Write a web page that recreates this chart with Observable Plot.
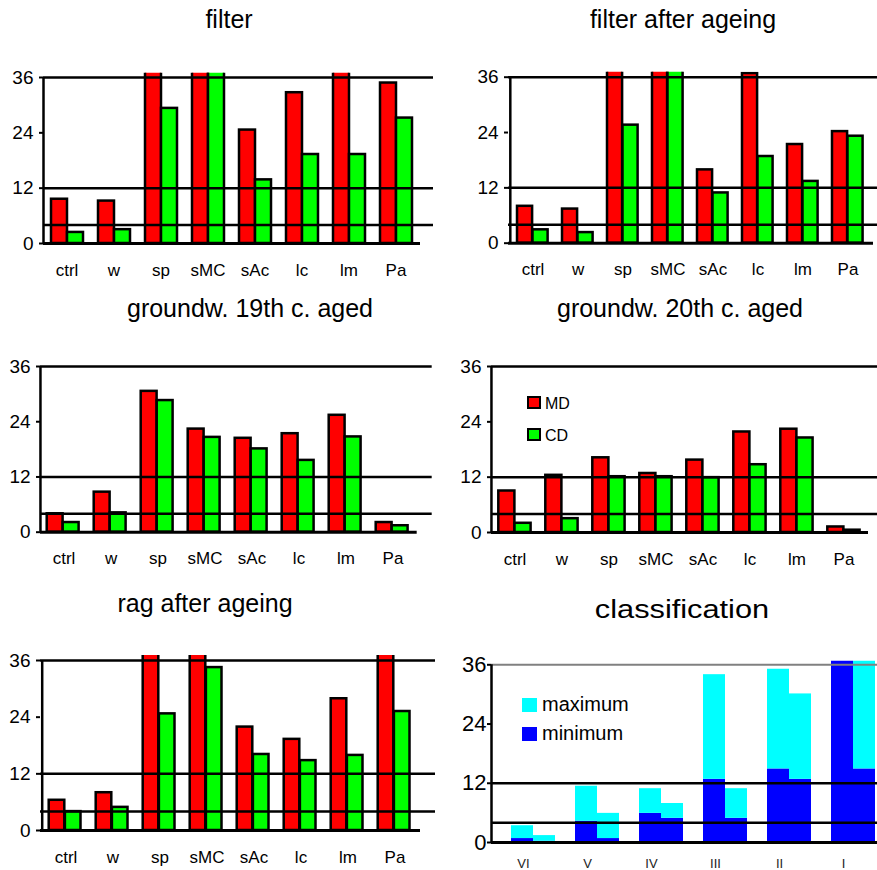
<!DOCTYPE html>
<html><head><meta charset="utf-8">
<script src="https://cdn.jsdelivr.net/npm/d3@7"></script>
<script src="https://cdn.jsdelivr.net/npm/@observablehq/plot@0.6"></script>
<style>
body{margin:0;background:#fff;}
#chart{position:relative;width:877px;height:870px;overflow:hidden;font-family:"Liberation Sans",Arial,sans-serif;color:#000;background:#fff;}
#chart svg{position:absolute;}
.title{position:absolute;font-size:25px;line-height:25px;white-space:nowrap;transform:translateX(-50%);}
.leg{position:absolute;white-space:nowrap;}
.sw{position:absolute;box-sizing:border-box;}
.barpanel g[aria-label^="x-axis"] text{font-size:17px;}
.clspanel g[aria-label^="x-axis"] text{font-size:13px;fill:#222;}
#chart g[aria-label^="y-axis"] line, #chart g[aria-label^="y-axis"] path{stroke-width:2px;}
</style></head>
<body>
<div id="chart"></div>
<script>
// ---------- data ----------
const categories = ["ctrl", "w", "sp", "sMC", "sAc", "lc", "lm", "Pa"];
const yTicks = [0, 12, 24, 36];
const refLines = [4, 12, 36];

// values above 36 are cut off at the top of the frame in the reference
const filterMD = [9.6, 9.2, 40, 40, 24.6, 32.7, 40, 34.8];
const filterCD = [2.4, 3.0, 29.3, 40, 13.8, 19.3, 19.3, 27.2];

const filterAgeMD = [8.0, 7.4, 40, 40, 15.9, 36.8, 21.4, 24.2];
const filterAgeCD = [2.9, 2.3, 25.6, 40, 10.9, 18.8, 13.4, 23.2];

const gw19MD = [4.0, 8.7, 30.6, 22.4, 20.4, 21.4, 25.4, 2.1];
const gw19CD = [2.1, 4.2, 28.6, 20.6, 18.1, 15.6, 20.7, 1.4];

const gw20MD = [9.0, 12.4, 16.2, 12.8, 15.7, 21.8, 22.4, 1.2];
const gw20CD = [2.0, 3.0, 12.1, 12.1, 11.9, 14.7, 20.5, 0.5];

const ragMD = [6.4, 8.0, 40, 40, 21.9, 19.3, 27.9, 40];
const ragCD = [4.0, 4.9, 24.7, 34.5, 16.1, 14.8, 15.9, 25.2];

const classes = ["VI", "V", "IV", "III", "II", "I"];
const minA = [0.8, 4.3, 5.9, 12.8, 14.9, 40];
const maxA = [3.4, 11.4, 10.9, 34.0, 35.1, 40];
const minB = [0.25, 0.8, 4.9, 4.9, 12.8, 14.9];
const maxB = [1.4, 5.9, 7.9, 10.9, 30.1, 40];

const titles = ["filter", "filter after ageing", "groundw. 19th c. aged", "groundw. 20th c. aged", "rag after ageing", "classification"];
const seriesNames = ["MD", "CD"];
const classLegend = ["maximum", "minimum"];

const mdColor = "#ff0000", cdColor = "#00ff00", maxColor = "#00ffff", minColor = "#0000ff";

const chart = document.getElementById("chart");
const font = '"Liberation Sans", Arial, sans-serif';

function place(el, left, top) {
  el.style.left = left + "px";
  el.style.top = top + "px";
  chart.appendChild(el);
}

function barPanel(cfg) {
  const {md, cd, svgLeft, svgTop, svgWidth, axisX, frameRight, xEnd, y36, y0, clipTop, inset, bw, baseEnd} = cfg;
  const pxPerUnit = (y0 - y36) / 36;
  const yTop = 36 + (y36 - clipTop) / pxPerUnit;
  const step = (xEnd - axisX) / categories.length;
  const mdData = categories.map((c, i) => ({cat: c, v: md[i]}));
  const cdData = categories.map((c, i) => ({cat: c, v: cd[i]}));
  const marginBottom = 40;
  const svg = Plot.plot({
    width: svgWidth,
    height: y0 - svgTop + marginBottom,
    marginLeft: axisX - svgLeft,
    marginRight: svgLeft + svgWidth - frameRight,
    marginTop: clipTop - svgTop,
    marginBottom,
    style: {fontFamily: font, fontSize: "19px", background: "transparent", color: "#000", overflow: "visible"},
    x: {type: "band", domain: categories, range: [axisX - svgLeft, xEnd - svgLeft], padding: 0, tickSize: 0, tickPadding: 20, label: null},
    y: {domain: [0, yTop], ticks: yTicks, tickSize: 4, tickPadding: 6, label: null},
    marks: [
      Plot.barY(mdData, {x: "cat", y: "v", fill: mdColor, stroke: "#000", strokeWidth: 2.5, insetLeft: inset, insetRight: step - inset - bw, clip: true}),
      Plot.barY(cdData, {x: "cat", y: "v", fill: cdColor, stroke: "#000", strokeWidth: 2.5, insetLeft: inset + bw, insetRight: step - inset - 2 * bw, clip: true}),
      Plot.ruleY(refLines, {stroke: "#000", strokeWidth: 2.5}),
      Plot.ruleY([0], {stroke: "#000", strokeWidth: 3, insetRight: frameRight - baseEnd}),
      Plot.ruleX([categories[0]], {x: d => d, dx: -step / 2, y1: 0, y2: 36, stroke: "#000", strokeWidth: 2.5})
    ]
  });
  svg.classList.add("barpanel");
  place(svg, svgLeft, svgTop);
}

function classPanel(cfg) {
  const {svgLeft, svgTop, svgWidth, axisX, frameRight, xEnd, y36, y0, clipTop, inset, bw} = cfg;
  const pxPerUnit = (y0 - y36) / 36;
  const yTop = 36 + (y36 - clipTop) / pxPerUnit;
  const step = (xEnd - axisX) / classes.length;
  const data = classes.map((c, i) => ({cls: c, minA: minA[i], maxA: maxA[i], minB: minB[i], maxB: maxB[i]}));
  const marginBottom = 40;
  const a = {insetLeft: inset, insetRight: step - inset - bw, clip: true};
  const b = {insetLeft: inset + bw, insetRight: step - inset - 2 * bw, clip: true};
  const svg = Plot.plot({
    width: svgWidth,
    height: y0 - svgTop + marginBottom,
    marginLeft: axisX - svgLeft,
    marginRight: svgLeft + svgWidth - frameRight,
    marginTop: clipTop - svgTop,
    marginBottom,
    style: {fontFamily: font, fontSize: "22px", background: "transparent", color: "#000", overflow: "visible"},
    x: {type: "band", domain: classes, range: [axisX - svgLeft, xEnd - svgLeft], padding: 0, tickSize: 0, tickPadding: 16, label: null},
    y: {domain: [0, yTop], ticks: yTicks, tickSize: 4, tickPadding: 1, label: null},
    marks: [
      Plot.barY(data, {x: "cls", y1: 0, y2: "minA", fill: minColor, ...a}),
      Plot.barY(data, {x: "cls", y1: "minA", y2: "maxA", fill: maxColor, ...a}),
      Plot.barY(data, {x: "cls", y1: 0, y2: "minB", fill: minColor, ...b}),
      Plot.barY(data, {x: "cls", y1: "minB", y2: "maxB", fill: maxColor, ...b}),
      Plot.ruleY([4, 12], {stroke: "#000", strokeWidth: 2.5}),
      Plot.ruleY([36], {stroke: "#808080", strokeWidth: 2}),
      Plot.ruleY([0], {stroke: "#000", strokeWidth: 3}),
      Plot.ruleX([classes[0]], {x: d => d, dx: -step / 2, y1: 0, y2: 36, stroke: "#000", strokeWidth: 2.5})
    ]
  });
  svg.classList.add("clspanel");
  place(svg, svgLeft, svgTop);
}

barPanel({md: filterMD, cd: filterCD, svgLeft: 0, svgTop: 45, svgWidth: 438, axisX: 43, frameRight: 433, xEnd: 419, y36: 77, y0: 243, clipTop: 72.7, inset: 8, bw: 16, baseEnd: 420});
barPanel({md: filterAgeMD, cd: filterAgeCD, svgLeft: 438, svgTop: 45, svgWidth: 439, axisX: 508, frameRight: 877, xEnd: 871.2, y36: 76.7, y0: 242.7, clipTop: 71.7, inset: 7, bw: 15.5, baseEnd: 873});
barPanel({md: gw19MD, cd: gw19CD, svgLeft: 0, svgTop: 335, svgWidth: 438, axisX: 40, frameRight: 431.7, xEnd: 416.8, y36: 366, y0: 531.7, clipTop: 362, inset: 6.7, bw: 16, baseEnd: 416.7});
barPanel({md: gw20MD, cd: gw20CD, svgLeft: 438, svgTop: 335, svgWidth: 439, axisX: 491, frameRight: 877, xEnd: 867.8, y36: 366, y0: 532, clipTop: 362, inset: 7.3, bw: 16.2, baseEnd: 868});
barPanel({md: ragMD, cd: ragCD, svgLeft: 0, svgTop: 630, svgWidth: 438, axisX: 40, frameRight: 435, xEnd: 420.8, y36: 660, y0: 830, clipTop: 655, inset: 6.7, bw: 16.2, baseEnd: 420});
classPanel({svgLeft: 438, svgTop: 635, svgWidth: 439, axisX: 491, frameRight: 877, xEnd: 875, y36: 664.3, y0: 842, clipTop: 660.7, inset: 20, bw: 22});

// titles (center x, baseline y)
const titlePos = [[229, 28], [683, 28], [250, 317], [680, 317], [205, 612], [682, 618]];
titles.forEach((t, i) => {
  const d = document.createElement("div");
  d.className = "title";
  d.textContent = t;
  if (i === 5) d.style.transform = "translateX(-50%) scaleX(1.23)";
  place(d, titlePos[i][0], titlePos[i][1] - 21);
});

// legend MD / CD
[[mdColor, 395.7, 409.3], [cdColor, 427.7, 441.3]].forEach(([col, top, base], i) => {
  const s = document.createElement("div");
  s.className = "sw";
  s.style.cssText += `width:13.5px;height:13.5px;background:${col};border:2px solid #000;`;
  place(s, 527.3, top);
  const t = document.createElement("div");
  t.className = "leg";
  t.style.cssText += "font-size:16px;line-height:16px;";
  t.textContent = seriesNames[i];
  place(t, 545, base - 13.5);
});

// legend maximum / minimum
[[maxColor, 698.3, 710.7], [minColor, 727.3, 740]].forEach(([col, top, base], i) => {
  const s = document.createElement("div");
  s.className = "sw";
  s.style.cssText += `width:14.4px;height:13.4px;background:${col};`;
  place(s, 522.3, top);
  const t = document.createElement("div");
  t.className = "leg";
  t.style.cssText += "font-size:20px;line-height:20px;";
  t.textContent = classLegend[i];
  place(t, 542, base - 16.9);
});
</script>
</body></html>
